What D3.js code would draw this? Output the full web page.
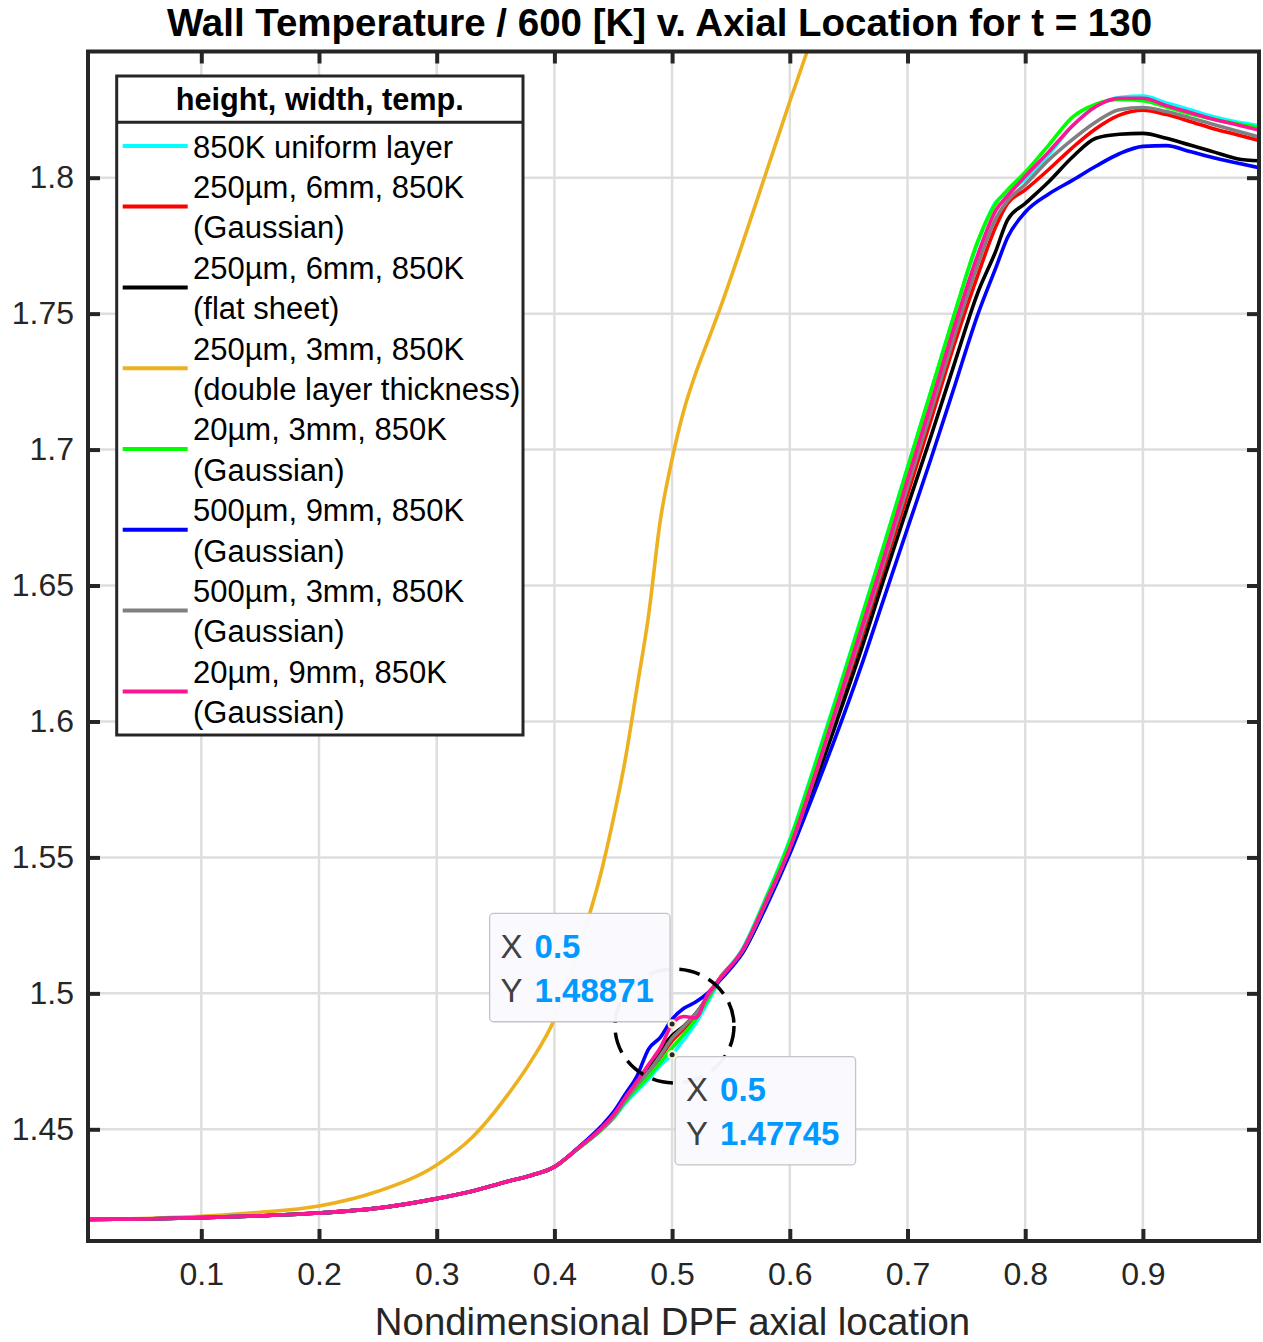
<!DOCTYPE html>
<html>
<head>
<meta charset="utf-8">
<script src="https://cdn.jsdelivr.net/npm/d3@7"></script>
<style>
  body { margin: 0; background: #fff; }
  svg { display: block; }
  text { font-family: "Liberation Sans", Arial, Helvetica, sans-serif; }
</style>
</head>
<body>
<svg id="chart" width="1263" height="1342"></svg>
<script>
// Axial positions shared by every series
const axialX = [0.00374, 0.05, 0.1, 0.15, 0.2, 0.25, 0.3, 0.33, 0.36, 0.38, 0.4,
  0.42, 0.44, 0.45, 0.46, 0.47, 0.48, 0.49, 0.50, 0.51, 0.52, 0.53, 0.54,
  0.56, 0.58, 0.60, 0.62, 0.64, 0.66, 0.68, 0.70, 0.72, 0.74, 0.76, 0.775, 0.785,
  0.80, 0.82, 0.84, 0.86, 0.88, 0.90, 0.92, 0.94, 0.96, 0.98, 0.99864];

// Wall temperature / 600 K for each case
const uniformLayer = [1.4168, 1.4170, 1.4175, 1.4182, 1.4192, 1.4210, 1.4245, 1.4272, 1.4308, 1.4330, 1.4362,
  1.4428, 1.4498, 1.4540, 1.4595, 1.4640, 1.4685, 1.4735, 1.47745, 1.4830, 1.4890, 1.4965, 1.5045,
  1.5165, 1.5355, 1.5565, 1.5825, 1.6095, 1.6372, 1.6650, 1.6935, 1.7215, 1.7500, 1.7765, 1.7910, 1.7945,
  1.7995, 1.8085, 1.8190, 1.8262, 1.8295, 1.8300, 1.8275, 1.8250, 1.8224, 1.8205, 1.8192];

const g250w6 = [1.4168, 1.4170, 1.4175, 1.4182, 1.4192, 1.4210, 1.4245, 1.4272, 1.4308, 1.4330, 1.4362,
  1.4430, 1.4500, 1.4545, 1.4605, 1.4660, 1.4708, 1.4765, 1.4825, 1.4870, 1.4920, 1.4982, 1.5053,
  1.5155, 1.5330, 1.5530, 1.5775, 1.6030, 1.6295, 1.6565, 1.6835, 1.7110, 1.7390, 1.7645, 1.7820, 1.7905,
  1.7955, 1.8030, 1.8110, 1.8180, 1.8230, 1.8248, 1.8232, 1.8207, 1.8180, 1.8158, 1.8137];

const flat250w6 = [1.4168, 1.4170, 1.4175, 1.4182, 1.4192, 1.4210, 1.4245, 1.4272, 1.4308, 1.4330, 1.4362,
  1.4430, 1.4500, 1.4545, 1.4605, 1.4663, 1.4715, 1.4790, 1.4845, 1.4880, 1.4925, 1.4985, 1.5050,
  1.5150, 1.5325, 1.5522, 1.5755, 1.6002, 1.6255, 1.6525, 1.6790, 1.7050, 1.7318, 1.7580, 1.7730, 1.7845,
  1.7905, 1.7985, 1.8075, 1.8145, 1.8160, 1.8163, 1.8145, 1.8120, 1.8095, 1.8070, 1.8062];

const double250w3 = [1.4168, 1.4172, 1.4180, 1.4195, 1.4218, 1.4272, 1.4369, 1.4470, 1.4625, 1.4750, 1.4905,
  1.5155, 1.5450, 1.5640, 1.5855, 1.6120, 1.6390, 1.6740, 1.6965, 1.7145, 1.7280, 1.7395, 1.7510,
  1.7760, 1.8020, 1.8280, 1.8530, null, null, null, null, null, null, null, null, null,
  null, null, null, null, null, null, null, null, null, null, null];

const g20w3 = [1.4168, 1.4170, 1.4175, 1.4182, 1.4192, 1.4210, 1.4245, 1.4272, 1.4308, 1.4330, 1.4362,
  1.4428, 1.4499, 1.4542, 1.4600, 1.4650, 1.4695, 1.4745, 1.4800, 1.4850, 1.4905, 1.4975, 1.5050,
  1.5160, 1.5350, 1.5560, 1.5818, 1.6090, 1.6368, 1.6648, 1.6932, 1.7215, 1.7500, 1.7770, 1.7905, 1.7955,
  1.8020, 1.8120, 1.8222, 1.8270, 1.8288, 1.8283, 1.8260, 1.8235, 1.8215, 1.8198, 1.8184];

const g500w9 = [1.4168, 1.4170, 1.4175, 1.4182, 1.4192, 1.4210, 1.4245, 1.4272, 1.4308, 1.4330, 1.4362,
  1.4432, 1.4512, 1.4562, 1.4628, 1.4694, 1.4795, 1.4838, 1.4905, 1.4945, 1.4968, 1.5000, 1.5045,
  1.5150, 1.5320, 1.5513, 1.5730, 1.5955, 1.6195, 1.6453, 1.6710, 1.6967, 1.7233, 1.7500, 1.7668, 1.7780,
  1.7873, 1.7940, 1.7990, 1.8042, 1.8088, 1.8115, 1.8118, 1.8096, 1.8073, 1.8054, 1.8037];

const g500w3 = [1.4168, 1.4170, 1.4175, 1.4182, 1.4192, 1.4210, 1.4245, 1.4272, 1.4308, 1.4330, 1.4362,
  1.4430, 1.4500, 1.4545, 1.4605, 1.4662, 1.4712, 1.4770, 1.4835, 1.4878, 1.4925, 1.4985, 1.5052,
  1.5157, 1.5335, 1.5532, 1.5780, 1.6043, 1.6312, 1.6585, 1.6862, 1.7140, 1.7420, 1.7685, 1.7850, 1.7915,
  1.7975, 1.8065, 1.8140, 1.8205, 1.8250, 1.8258, 1.8243, 1.8220, 1.8196, 1.8172, 1.8150];

const g20w9 = [1.4168, 1.4170, 1.4175, 1.4182, 1.4192, 1.4210, 1.4245, 1.4272, 1.4308, 1.4330, 1.4362,
  1.4430, 1.4505, 1.4552, 1.4615, 1.4675, 1.4738, 1.4800, 1.48871, 1.4915, 1.4910, 1.4995, 1.5050,
  1.5160, 1.5340, 1.5535, 1.5785, 1.6055, 1.6330, 1.6605, 1.6890, 1.7170, 1.7455, 1.7720, 1.7880, 1.7933,
  1.8005, 1.8095, 1.8190, 1.8262, 1.8292, 1.8292, 1.8265, 1.8240, 1.8215, 1.8195, 1.8175];

// Legend labels (one entry per series, possibly on two lines)
const seriesLabels = [
  ["850K uniform layer"],
  ["250µm, 6mm, 850K", "(Gaussian)"],
  ["250µm, 6mm, 850K", "(flat sheet)"],
  ["250µm, 3mm, 850K", "(double layer thickness)"],
  ["20µm, 3mm, 850K", "(Gaussian)"],
  ["500µm, 9mm, 850K", "(Gaussian)"],
  ["500µm, 3mm, 850K", "(Gaussian)"],
  ["20µm, 9mm, 850K", "(Gaussian)"]
];
const seriesValues = [uniformLayer, g250w6, flat250w6, double250w3, g20w3, g500w9, g500w3, g20w9];
const seriesColors = ["#00FFFF", "#FF0000", "#000000", "#EDB120", "#00FF00", "#0000FF", "#808080", "#FF1493"];

const xTicks = [0.1, 0.2, 0.3, 0.4, 0.5, 0.6, 0.7, 0.8, 0.9];
const xTickLabels = ["0.1", "0.2", "0.3", "0.4", "0.5", "0.6", "0.7", "0.8", "0.9"];
const yTicks = [1.45, 1.5, 1.55, 1.6, 1.65, 1.7, 1.75, 1.8];
const yTickLabels = ["1.45", "1.5", "1.55", "1.6", "1.65", "1.7", "1.75", "1.8"];

// Data tips: series index and axial position
const dataTips = [
  { series: 7, x: 0.5, side: "upLeft" },
  { series: 0, x: 0.5, side: "downRight" }
];

const svg = d3.select("#chart");
const box = { left: 88, right: 1259, top: 51.5, bottom: 1241 };
const x = d3.scaleLinear().domain([0.00374, 0.99864]).range([box.left, box.right]);
const y = d3.scaleLinear().domain([1.40892, 1.84641]).range([box.bottom, box.top]);
const axisColor = "#262626";

// Grid
const grid = svg.append("g");
grid.selectAll("line.gx").data(xTicks).join("line")
  .attr("x1", d => x(d)).attr("x2", d => x(d))
  .attr("y1", box.top).attr("y2", box.bottom)
  .attr("stroke", "#dedede").attr("stroke-width", 2.5);
grid.selectAll("line.gy").data(yTicks).join("line")
  .attr("y1", d => y(d)).attr("y2", d => y(d))
  .attr("x1", box.left).attr("x2", box.right)
  .attr("stroke", "#dedede").attr("stroke-width", 2.5);

// Curves
svg.append("clipPath").attr("id", "plotClip").append("rect")
  .attr("x", box.left).attr("y", box.top)
  .attr("width", box.right - box.left).attr("height", box.bottom - box.top);

const line = d3.line()
  .defined(d => d[1] !== null)
  .x(d => x(d[0])).y(d => y(d[1]))
  .curve(d3.curveMonotoneX);

const curves = svg.append("g").attr("clip-path", "url(#plotClip)");
seriesValues.forEach((vals, i) => {
  curves.append("path")
    .datum(axialX.map((xv, j) => [xv, vals[j]]))
    .attr("d", line)
    .attr("fill", "none")
    .attr("stroke", seriesColors[i])
    .attr("stroke-width", 3.6)
    .attr("stroke-linejoin", "round");
});

// Axes (ticks pointing inward on all four sides)
const tickFont = 32;
function styleAxis(g) {
  g.select(".domain").remove();
  g.selectAll(".tick line").attr("stroke", axisColor).attr("stroke-width", 4);
  g.selectAll(".tick text").attr("fill", axisColor).attr("font-size", tickFont)
    .attr("font-family", '"Liberation Sans", Arial, sans-serif');
}
svg.append("g").attr("transform", `translate(0,${box.bottom})`)
  .call(d3.axisBottom(x).tickValues(xTicks).tickFormat((d, i) => xTickLabels[i])
    .tickSizeInner(-12).tickSizeOuter(0).tickPadding(21))
  .call(styleAxis);
svg.append("g").attr("transform", `translate(0,${box.top})`)
  .call(d3.axisTop(x).tickValues(xTicks).tickFormat("").tickSizeInner(-12).tickSizeOuter(0))
  .call(styleAxis);
svg.append("g").attr("transform", `translate(${box.left},0)`)
  .call(d3.axisLeft(y).tickValues(yTicks).tickFormat((d, i) => yTickLabels[i])
    .tickSizeInner(-12).tickSizeOuter(0).tickPadding(14))
  .call(styleAxis);
svg.append("g").attr("transform", `translate(${box.right},0)`)
  .call(d3.axisRight(y).tickValues(yTicks).tickFormat("").tickSizeInner(-12).tickSizeOuter(0))
  .call(styleAxis);

// Frame
svg.append("rect")
  .attr("x", box.left).attr("y", box.top)
  .attr("width", box.right - box.left).attr("height", box.bottom - box.top)
  .attr("fill", "none").attr("stroke", axisColor).attr("stroke-width", 4);

// Title and axis label
svg.append("text").attr("x", 659.5).attr("y", 36)
  .attr("text-anchor", "middle").attr("font-size", 38.5).attr("font-weight", "bold")
  .attr("fill", "#000")
  .text("Wall Temperature / 600 [K] v. Axial Location for t = 130");
svg.append("text").attr("x", 672.5).attr("y", 1335)
  .attr("text-anchor", "middle").attr("font-size", 38.4)
  .attr("fill", axisColor)
  .text("Nondimensional DPF axial location");

// Legend
const lg = { left: 116.7, top: 76, right: 523, bottom: 735, sep: 122.3 };
const legend = svg.append("g");
legend.append("rect")
  .attr("x", lg.left).attr("y", lg.top)
  .attr("width", lg.right - lg.left).attr("height", lg.bottom - lg.top)
  .attr("fill", "#fff").attr("stroke", axisColor).attr("stroke-width", 3);
legend.append("line")
  .attr("x1", lg.left).attr("x2", lg.right).attr("y1", lg.sep).attr("y2", lg.sep)
  .attr("stroke", axisColor).attr("stroke-width", 3);
legend.append("text").attr("x", (lg.left + lg.right) / 2).attr("y", 110)
  .attr("text-anchor", "middle").attr("font-size", 30.7).attr("font-weight", "bold")
  .attr("fill", "#000").text("height, width, temp.");

const firstBaseline = 157.5, lineStep = 40.4, legendFont = 31;
let row = 0;
seriesLabels.forEach((lines, i) => {
  const baselines = lines.map((_, k) => firstBaseline + (row + k) * lineStep);
  const sampleY = d3.mean(baselines) - 11.5;
  legend.append("line")
    .attr("x1", 122.7).attr("x2", 187.7).attr("y1", sampleY).attr("y2", sampleY)
    .attr("stroke", seriesColors[i]).attr("stroke-width", 4);
  lines.forEach((t, k) => {
    legend.append("text").attr("x", 193).attr("y", baselines[k])
      .attr("font-size", legendFont).attr("fill", "#000").text(t);
  });
  row += lines.length;
});

// Dashed highlight around the region of interest
const focus = { x: 0.50204, y: 1.4880, rx: 59.5, ry: 57 };
svg.append("ellipse")
  .attr("cx", x(focus.x)).attr("cy", y(focus.y))
  .attr("rx", focus.rx).attr("ry", focus.ry)
  .attr("fill", "none").attr("stroke", "#000").attr("stroke-width", 3.5)
  .attr("stroke-dasharray", "21 10");

// Data tips
const tipW = 180.5, tipH = 108.3;
dataTips.forEach(tip => {
  const idx = axialX.indexOf(tip.x);
  const val = seriesValues[tip.series][idx];
  const px = x(tip.x), py = y(val);
  const bx = tip.side === "upLeft" ? px - tipW - 2 : px + 3;
  const by = tip.side === "upLeft" ? py - tipH - 2.3 : py + 2;
  const g = svg.append("g");
  g.append("rect").attr("x", bx).attr("y", by).attr("width", tipW).attr("height", tipH)
    .attr("rx", 4).attr("fill", "#f9f9fe").attr("fill-opacity", 0.97)
    .attr("stroke", "#c4c4c4").attr("stroke-width", 1.3);
  const rows = [["X", String(tip.x)], ["Y", String(val)]];
  rows.forEach((r, k) => {
    const t = g.append("text").attr("x", bx + 11).attr("y", by + 44.7 + k * 44)
      .attr("font-size", 33);
    t.append("tspan").attr("fill", "#404040").text(r[0]);
    t.append("tspan").attr("x", bx + 45).attr("fill", "#0099FF").attr("font-weight", "bold").text(r[1]);
  });
  svg.append("circle").attr("cx", px).attr("cy", py).attr("r", 3.6)
    .attr("fill", "#262626").attr("stroke", "#f6f1c9").attr("stroke-width", 2.2);
});
</script>
</body>
</html>
